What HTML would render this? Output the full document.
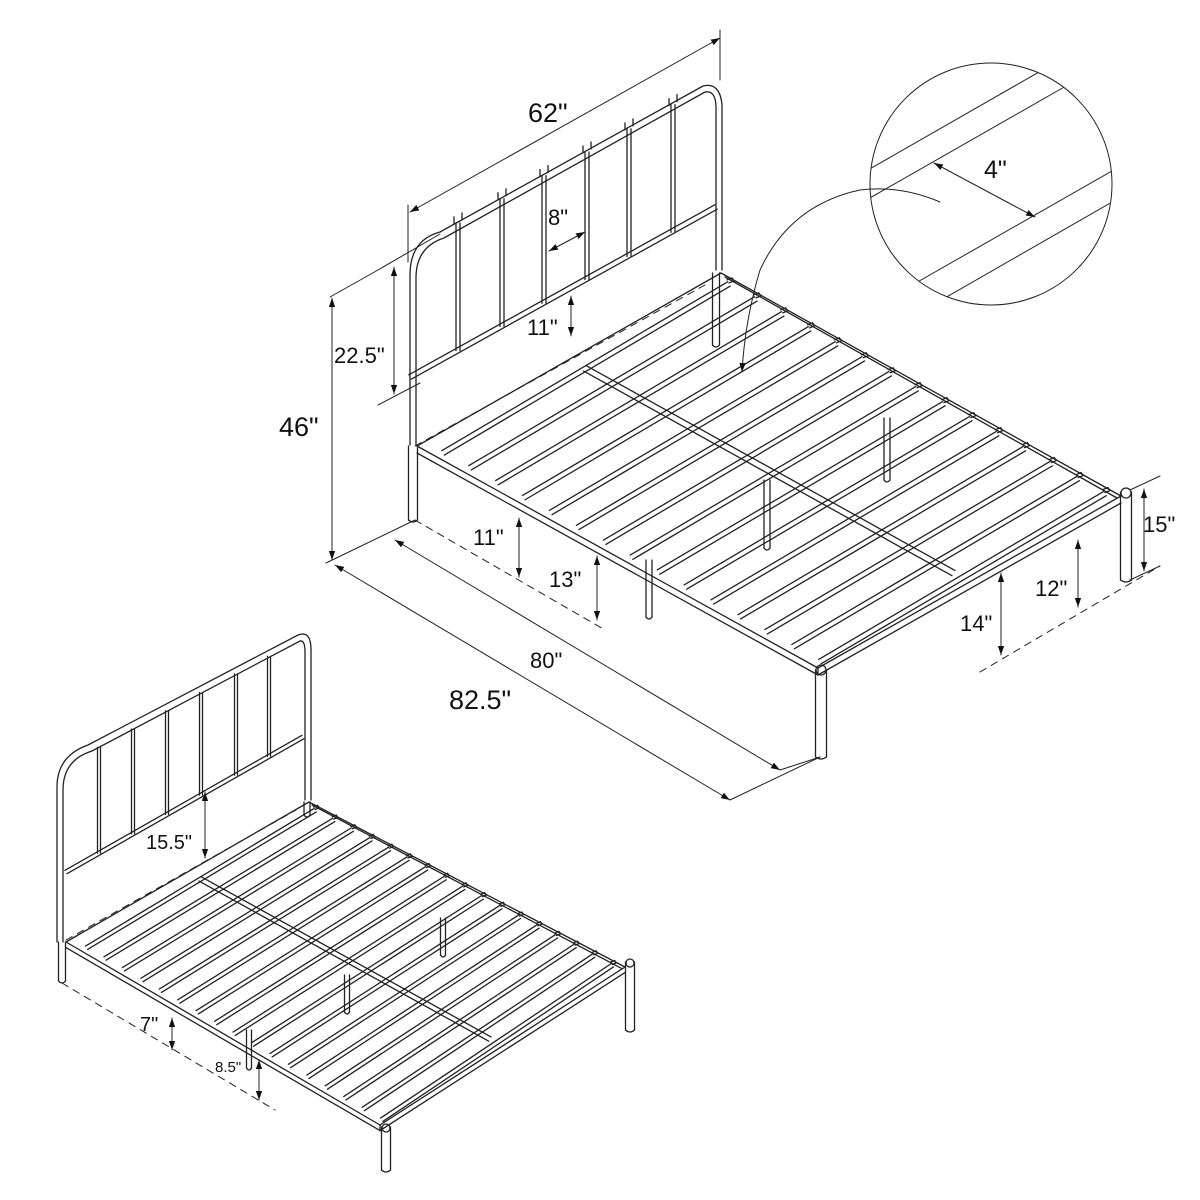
<!DOCTYPE html>
<html><head><meta charset="utf-8">
<style>
html,body{margin:0;padding:0;background:#fff;}
svg{display:block;}
text{font-family:"Liberation Sans",Arial,sans-serif;fill:#111;}
</style></head>
<body>
<svg id="s" width="1200" height="1200" viewBox="0 0 1200 1200" xmlns="http://www.w3.org/2000/svg">
<defs>
<marker id="a" viewBox="0 0 10 10" refX="10" refY="5" markerWidth="9" markerHeight="9" orient="auto-start-reverse" markerUnits="userSpaceOnUse"><path d="M0,1.5 L10,5 L0,8.5 z" fill="#111"/></marker>
<clipPath id="cc"><circle cx="991" cy="184" r="121"/></clipPath>
</defs>
<g id="g" stroke="#222" stroke-width="1.3" fill="none" stroke-linecap="round"></g>
<g font-size="22">
<text x="528" y="122" font-size="27">62"</text>
<text x="548" y="225">8"</text>
<text x="527" y="335">11"</text>
<text x="334" y="363">22.5"</text>
<text x="279" y="436" font-size="27">46"</text>
<text x="473" y="545">11"</text>
<text x="549" y="587">13"</text>
<text x="530" y="668">80"</text>
<text x="449" y="709" font-size="27">82.5"</text>
<text x="1035" y="596">12"</text>
<text x="960" y="631">14"</text>
<text x="1143" y="532">15"</text>
<text x="984" y="178" font-size="25">4"</text>
<text x="146" y="849" font-size="20">15.5"</text>
<text x="140" y="1031" font-size="20">7"</text>
<text x="215" y="1072" font-size="15">8.5"</text>
</g>
</svg>
<script>
var g=document.getElementById('g');
function L(x1,y1,x2,y2,o){var e=document.createElementNS('http://www.w3.org/2000/svg','line');e.setAttribute('x1',x1);e.setAttribute('y1',y1);e.setAttribute('x2',x2);e.setAttribute('y2',y2);if(o)for(var k in o)e.setAttribute(k,o[k]);g.appendChild(e);return e;}
function P(d,o){var e=document.createElementNS('http://www.w3.org/2000/svg','path');e.setAttribute('d',d);if(o)for(var k in o)e.setAttribute(k,o[k]);g.appendChild(e);return e;}
function C(cx,cy,r,o){var e=document.createElementNS('http://www.w3.org/2000/svg','circle');e.setAttribute('cx',cx);e.setAttribute('cy',cy);e.setAttribute('r',r);if(o)for(var k in o)e.setAttribute(k,o[k]);g.appendChild(e);return e;}
var D={'stroke-dasharray':'7,6','stroke-width':1};
var AR={'marker-start':'url(#a)','marker-end':'url(#a)','stroke-width':1};
function tube(x1,y1,x2,y2,w){var dx=x2-x1,dy=y2-y1,l=Math.hypot(dx,dy),nx=-dy/l*w/2,ny=dx/l*w/2;L(x1+nx,y1+ny,x2+nx,y2+ny);L(x1-nx,y1-ny,x2-nx,y2-ny);}
function vpost(x,y1,y2,w){L(x-w/2,y1,x-w/2,y2);L(x+w/2,y1,x+w/2,y2);P('M'+(x-w/2)+','+y2+' Q'+x+','+(y2+4)+' '+(x+w/2)+','+y2);}
function bed(HL,HR,FR,FL,n,sc,legs){
 var h=7*sc;
 L(HL[0],HL[1],FL[0],FL[1]);L(HL[0],HL[1]+h,FL[0],FL[1]+h);
 L(FL[0],FL[1],FR[0],FR[1]);L(FL[0],FL[1]+h,FR[0],FR[1]+h);
 L(HR[0],HR[1],FR[0],FR[1]);L(HR[0]+4*sc,HR[1]+4*sc,FR[0]-4*sc,FR[1]+2*sc);
 L(HL[0],HL[1],HR[0],HR[1]);
 L(FL[0],FL[1]+h,FL[0],FL[1]);
 for(var i=0;i<n;i++){var t=0.04+i*(0.94/(n-1));
  var lx=HL[0]+t*(FL[0]-HL[0])+10*sc,ly=HL[1]+t*(FL[1]-HL[1])-2*sc;
  var rx=HR[0]+t*(FR[0]-HR[0])-8*sc,ry=HR[1]+t*(FR[1]-HR[1])+2*sc;
  tube(lx,ly,rx,ry,5*sc);
  P('M'+(rx-2*sc)+','+(ry-4*sc)+' l'+5*sc+','+(-2*sc)+' l'+2*sc+','+3*sc+' l'+(-5*sc)+','+2*sc);
 }
 var a=[HL[0]+0.5*(HR[0]-HL[0]),HL[1]+0.5*(HR[1]-HL[1])],b=[FL[0]+0.5*(FR[0]-FL[0]),FL[1]+0.5*(FR[1]-FL[1])];
 var ca=[a[0]+0.04*(b[0]-a[0]),a[1]+0.04*(b[1]-a[1])],cb=[a[0]+0.96*(b[0]-a[0]),a[1]+0.96*(b[1]-a[1])];
 tube(ca[0],ca[1],cb[0],cb[1],6*sc);
 legs.forEach(function(l){vpost(l[0],l[1],l[2],l[3]);});
}
var HL=[417,446],HR=[721,273],FR=[1121,496],FL=[818,668];
bed(HL,HR,FR,FL,15,1,[[413,446,520,9],[1126,492,580,11],[821,670,757,11],[649,560,617,6],[767,480,548,6],[887,418,480,6],[716,273,345,7]]);
C(1126,493,5);C(821,670,5);
P('M410,445 L410,275 Q410,240 440,232 L703,86 Q720,82 722,105 L722,270');
P('M416,445 L416,278 Q416,247 444,238 L705,92 Q716,90 716,108 L716,270');
tube(410,377,716,207,5);
[458,502,544,587,629,673].forEach(function(x){var yt=240-0.55*(x-427),yb=377-0.55*(x-410);L(x-2,yt,x-2,yb);L(x+2,yt,x+2,yb);L(x-4,yt-6,x-4,yt+1);L(x+4,yt-10,x+4,yt-3);});
L(408,205,408,262,{'stroke-width':1});L(720,30,720,80,{'stroke-width':1});
L(410,212,720,38,AR);
L(549,251,585,232,AR);
L(571,296,571,336,AR);
L(378,270,440,234,{'stroke-width':1});L(378,405,420,383,{'stroke-width':1});
L(394,267,394,394,AR);
L(330,297,378,270,{'stroke-width':1});
L(332,298,332,560,AR);
L(326,563,415,520,{'stroke-width':1});
L(415,446,705,285,D);
L(415,520,605,630,D);
L(519,518,519,577,AR);
L(597,556,597,620,AR);
L(395,540,780,770,AR);L(780,770,820,757,{'stroke-width':1});
L(335,565,730,800,AR);L(730,800,820,757,{'stroke-width':1});
L(980,672,1160,566,D);
L(1078,540,1078,607,AR);
L(1001,573,1001,655,AR);
L(1144,489,1144,571,AR);L(1130,490,1160,476,{'stroke-width':1});L(1130,580,1160,566,{'stroke-width':1});
C(991,184,121,{'stroke-width':1});
var cg=document.createElementNS('http://www.w3.org/2000/svg','g');cg.setAttribute('clip-path','url(#cc)');g.appendChild(cg);
function CL(x1,y1,x2,y2){var e=L(x1,y1,x2,y2,{'stroke-width':1});cg.appendChild(e);}
CL(840,186,1060,60);CL(840,215,1080,78);CL(900,292,1140,155);CL(910,318,1140,186);
L(934,163,1035,217,AR);
P('M940,202 Q900,185 860,190 Q790,205 760,270 Q745,320 742,372',{'stroke-width':1,'marker-end':'url(#a)'});
var hl=[66,942],hr=[309,802],fr=[625,967],fl=[380,1125];
bed(hl,hr,fr,fl,17,0.8,[[62,942,981,7],[630,962,1030,9],[386,1127,1170,9],[443,918,955,5],[347,975,1012,5],[249,1030,1068,5],[307,802,815,6]]);
C(630,963,4);C(386,1128,4);
P('M57,942 L57,787 Q57,756 88,745 L298,635 Q311,630 311,650 L311,800');
P('M63,942 L63,790 Q63,760 92,751 L300,641 Q305,640 305,652 L305,800');
tube(66,872,303,737,4);
[99,133,167,201,236,269].forEach(function(x){var yt=751-0.535*(x-92),yb=872-0.57*(x-66);L(x-1.5,yt,x-1.5,yb);L(x+1.5,yt,x+1.5,yb);});
L(66,940,296,810,D);
L(62,983,275,1110,D);
L(205,792,205,858,AR);
L(172,1018,172,1050,AR);
L(259,1060,259,1100,AR);
</script>
</body></html>
